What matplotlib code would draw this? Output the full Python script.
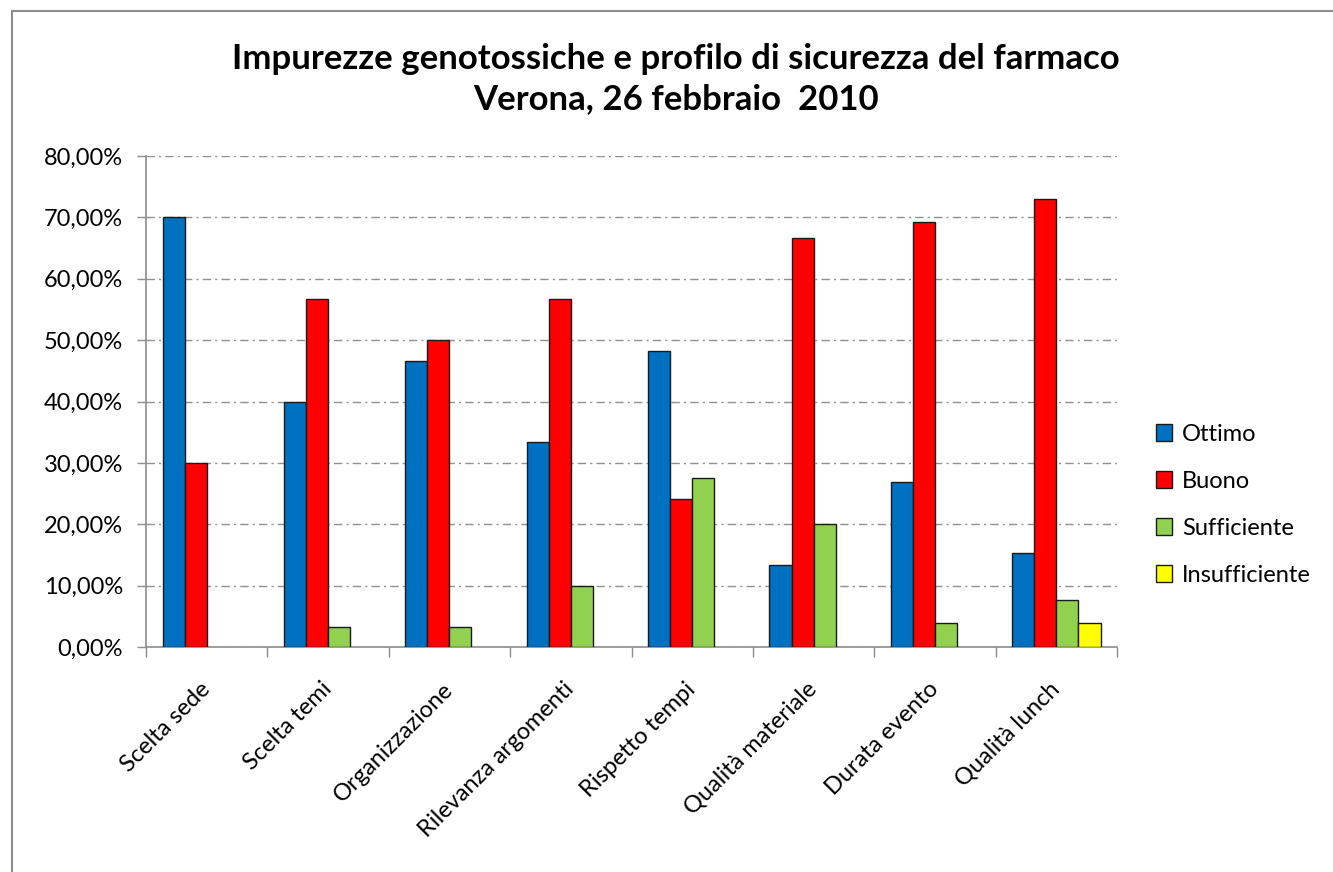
import numpy as np
import matplotlib
matplotlib.use("Agg")
import matplotlib.pyplot as plt
from matplotlib.patches import Rectangle
from matplotlib.ticker import FixedLocator, FuncFormatter

plt.rcParams['font.family'] = ['Lato', 'DejaVu Sans']
plt.rcParams['lines.scale_dashes'] = False

categories = ["Scelta sede", "Scelta temi", "Organizzazione", "Rilevanza argomenti",
              "Rispetto tempi", "Qualità materiale", "Durata evento", "Qualità lunch"]
series = ["Ottimo", "Buono", "Sufficiente", "Insufficiente"]
ottimo = [70.00, 40.00, 46.67, 33.33, 48.28, 13.33, 26.92, 15.38]
buono = [30.00, 56.67, 50.00, 56.67, 24.14, 66.67, 69.23, 73.08]
sufficiente = [0, 3.33, 3.33, 10.00, 27.59, 20.00, 3.85, 7.69]
insufficiente = [0, 0, 0, 0, 0, 0, 0, 3.85]
colors = ["#0070C0", "#FF0000", "#92D050", "#FFFF00"]

values = [ottimo, buono, sufficiente, insufficiente]

fig = plt.figure(figsize=(13.33, 8.72), dpi=100)
ax = fig.add_axes([0.1095, 0.258, 0.7285, 0.563])

# outer chart frame (only top/left visible in the original)
fig.patches.append(Rectangle((12/1333, -0.1), 1.2, 1 - 11/872 + 0.1,
                             transform=fig.transFigure, fill=False,
                             edgecolor="#8c8c8c", linewidth=1.5))

x = np.arange(len(categories))
w = 1 / 5.5
for i, (name, vals, c) in enumerate(zip(series, values, colors)):
    vals = np.array(vals, dtype=float)
    # no bar at all for empty values (like Excel)
    h = np.where(vals > 0, vals, np.nan)
    ax.bar(x + (i - 1.5) * w, h, width=w, color=c, edgecolor="#1a1a1a",
           linewidth=1.0, label=name, zorder=3)

ax.set_xlim(-0.5, len(categories) - 0.5)
ax.set_ylim(0, 80)
ax.set_yticks(np.arange(0, 81, 10))
ax.yaxis.set_major_formatter(FuncFormatter(lambda v, p: f"{v:.2f}%".replace(".", ",")))
ax.yaxis.grid(True, color="#8f8f8f", linewidth=1.0, dashes=(6, 3, 1.5, 3), zorder=0)

ax.set_xticks(x)
ax.set_xticklabels(categories, rotation=45, ha="right", va="center",
                   rotation_mode="anchor", fontsize=17)
ax.tick_params(axis="x", length=0, pad=28)
ax.xaxis.set_minor_locator(FixedLocator(np.arange(-0.5, len(categories), 1)))
ax.tick_params(axis="x", which="minor", length=7, color="#8c8c8c", width=1)
ax.tick_params(axis="y", length=6.5, color="#8c8c8c", width=1, labelsize=17, pad=10)

for s in ["top", "right"]:
    ax.spines[s].set_visible(False)
for s in ["left", "bottom"]:
    ax.spines[s].set_color("#8c8c8c")
    ax.spines[s].set_linewidth(1.2)

fig.text(0.507, 0.932, "Impurezze genotossiche e profilo di sicurezza del farmaco",
         ha="center", va="center", fontsize=25, fontweight="bold")
fig.text(0.507, 0.886, "Verona, 26 febbraio  2010",
         ha="center", va="center", fontsize=25, fontweight="bold")

ax.legend(loc="center left", bbox_to_anchor=(1.018, 0.29), frameon=False,
          fontsize=17, handlelength=0.7, handleheight=0.7, handletextpad=0.4,
          labelspacing=1.1)

fig.savefig("out.png", dpi=100)
